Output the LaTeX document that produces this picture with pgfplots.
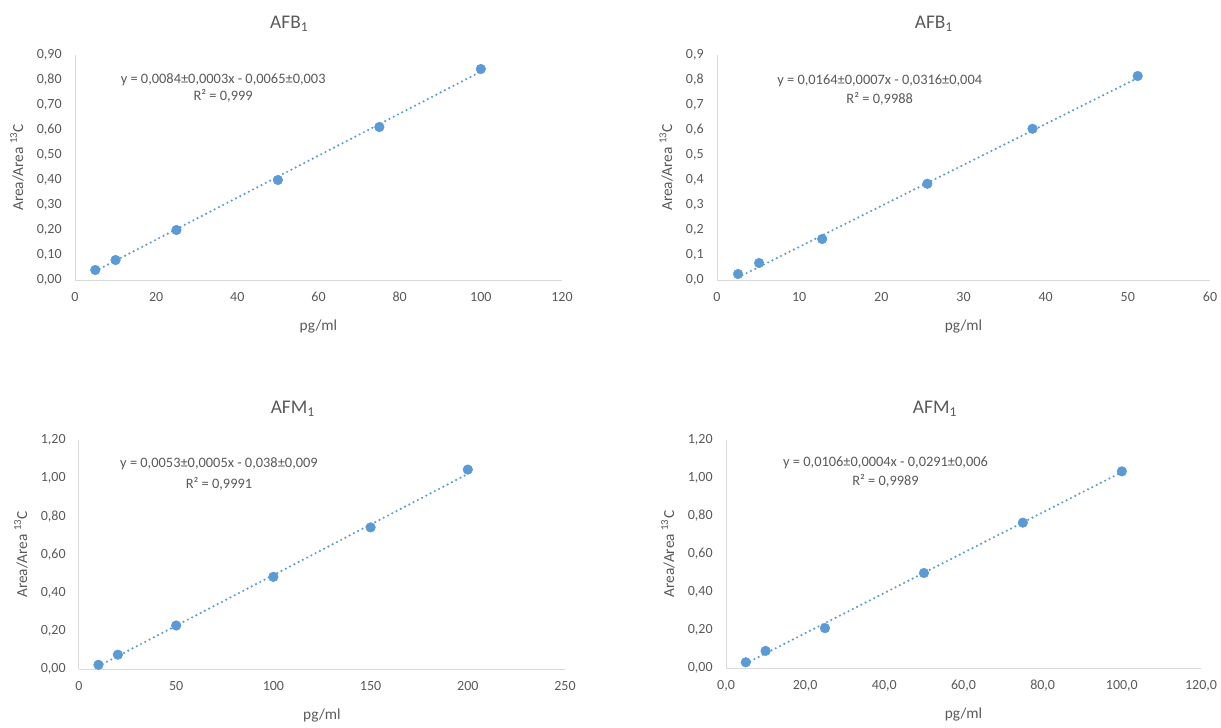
\documentclass[border=0pt]{standalone}
\usepackage{pgfplots}
\pgfplotsset{compat=1.18}
\usepackage{fontspec}
\setmainfont{Carlito}
\definecolor{txt}{HTML}{595959}
\definecolor{axl}{HTML}{D9D9D9}
\definecolor{blu}{HTML}{5B9BD5}
\tikzset{eq/.style={font=\fontsize{10.8}{13}\selectfont, text=txt}}
\pgfplotsset{
 excel/.style={
  scale only axis, anchor=south west,
  axis lines*=left, axis line style={draw=axl, line width=0.75pt, -},
  major tick length=0pt,
  tick label style={font=\fontsize{10.5}{12}\selectfont, text=txt},
  xticklabel shift=5.5pt, yticklabel shift=6.5pt,
  label style={font=\fontsize{11.5}{13}\selectfont, text=txt},
  xlabel style={at={(axis description cs:0.5,0)}, anchor=center, yshift=-35pt},
  ylabel shift=3pt,
  title style={font=\fontsize{14.5}{16}\selectfont, text=txt, at={(0.44,1)}, anchor=south, yshift=8pt},
  /pgf/number format/assume math mode=true,
  /pgf/number format/use comma,
  xlabel={pg/ml}, ylabel={Area/Area \textsuperscript{13}C},
  ymin=0, clip=false,
 },
 pts/.style={only marks, mark=*, mark size=3.6pt, color=blu, mark options={fill=blu, draw=blu}},
 trend/.style={color=blu, line width=1.8pt, dash pattern=on 0pt off 3.6pt, line cap=round, no marks},
}
\begin{document}
\begin{tikzpicture}
\path[use as bounding box] (0,0) rectangle (915.75pt,-546pt);
% Panel 1
\begin{axis}[excel, at={(56.25pt,-210pt)}, width=365.25pt, height=168.75pt,
  title={AFB\textsubscript{1}},
  xmin=0, xmax=120, xtick={0,20,...,120},
  ymax=0.9, ytick={0,0.1,...,0.9},
  yticklabel style={/pgf/number format/.cd, fixed, fixed zerofill, precision=2}]
\addplot[trend] coordinates {(5,0.0355) (100,0.8335)};
\addplot[pts] coordinates {(5,0.04) (10,0.08) (25,0.20) (50,0.40) (75,0.612) (100,0.844)};
\node[eq] at (axis cs:36.5,0.80) {y = 0,0084±0,0003x - 0,0065±0,003};
\node[eq] at (axis cs:36.5,0.735) {R² = 0,999};
\end{axis}
% Panel 2
\begin{axis}[excel, at={(537.75pt,-210pt)}, width=369.75pt, height=168.75pt,
  title={AFB\textsubscript{1}},
  xmin=0, xmax=60, xtick={0,10,...,60},
  ymax=0.9, ytick={0,0.1,...,0.9},
  yticklabel style={/pgf/number format/.cd, fixed, fixed zerofill, precision=1}]
\addplot[trend] coordinates {(2.56,0.0104) (51.2,0.808)};
\addplot[pts] coordinates {(2.56,0.024) (5.12,0.068) (12.8,0.164) (25.6,0.385) (38.4,0.605) (51.2,0.816)};
\node[eq] at (axis cs:19.8,0.795) {y = 0,0164±0,0007x - 0,0316±0,004};
\node[eq] at (axis cs:19.8,0.725) {R² = 0,9988};
\end{axis}
% Panel 3
\begin{axis}[excel, at={(59.25pt,-501.75pt)}, width=364.5pt, height=171.75pt,
  title={AFM\textsubscript{1}},
  xmin=0, xmax=250, xtick={0,50,...,250},
  ymax=1.2, ytick={0,0.2,...,1.2},
  yticklabel style={/pgf/number format/.cd, fixed, fixed zerofill, precision=2}]
\addplot[trend] coordinates {(10,0.015) (200,1.022)};
\addplot[pts] coordinates {(10,0.022) (20,0.075) (50,0.228) (100,0.483) (150,0.742) (200,1.045)};
\node[eq] at (axis cs:72,1.075) {y = 0,0053±0,0005x - 0,038±0,009};
\node[eq] at (axis cs:72,0.97) {R² = 0,9991};
\end{axis}
% Panel 4
\begin{axis}[excel, at={(544.5pt,-501pt)}, width=356.25pt, height=171pt,
  title={AFM\textsubscript{1}},
  xmin=0, xmax=120, xtick={0,20,...,120},
  ymax=1.2, ytick={0,0.2,...,1.2},
  xticklabel style={/pgf/number format/.cd, fixed, fixed zerofill, precision=1},
  yticklabel style={/pgf/number format/.cd, fixed, fixed zerofill, precision=2}]
\addplot[trend] coordinates {(5,0.0239) (100,1.0309)};
\addplot[pts] coordinates {(5,0.03) (10,0.09) (25,0.21) (50,0.50) (75,0.765) (100,1.035)};
\node[eq] at (axis cs:40.3,1.078) {y = 0,0106±0,0004x - 0,0291±0,006};
\node[eq] at (axis cs:40.3,0.983) {R² = 0,9989};
\end{axis}
\end{tikzpicture}
\end{document}
